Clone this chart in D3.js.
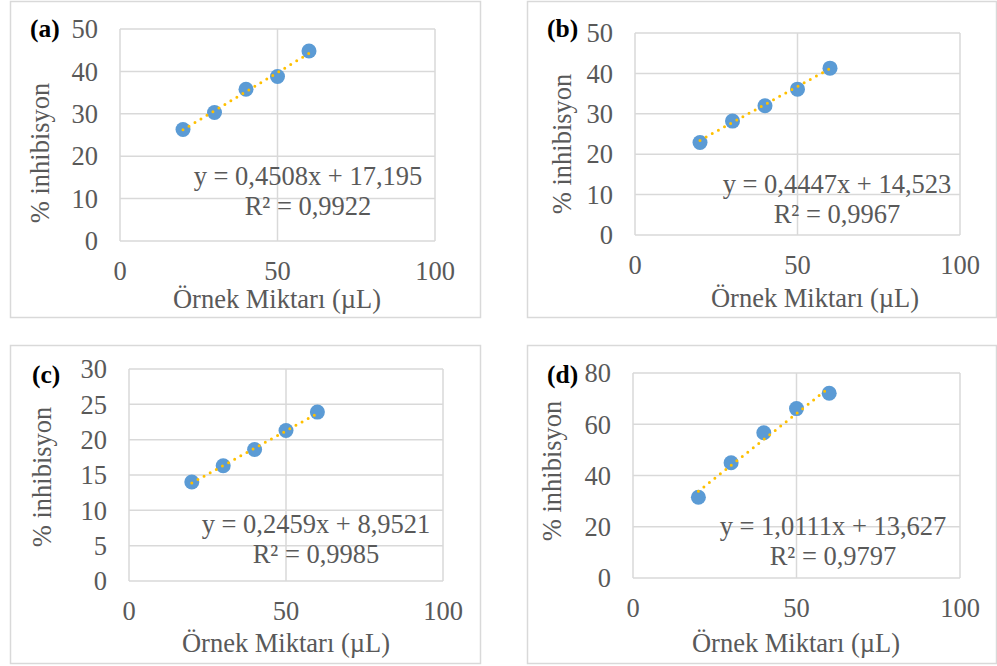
<!DOCTYPE html>
<html>
<head>
<meta charset="utf-8">
<script src="https://cdn.jsdelivr.net/npm/d3@7"></script>
<style>
  html, body { margin: 0; padding: 0; background: #fff; }
  svg { display: block; }
  text { font-family: "Liberation Serif", "Times New Roman", serif; }
</style>
</head>
<body>
<svg id="chart" width="997" height="666"></svg>
<script>
// ---- data ----
const xValues = [20, 30, 40, 50, 60];
const seriesA = [26.3, 30.3, 35.8, 38.8, 44.8];
const seriesB = [22.9, 28.2, 32.0, 36.1, 41.3];
const seriesC = [14.0, 16.3, 18.6, 21.3, 23.9];
const seriesD = [31.5, 45.0, 56.7, 66.1, 72.1];
const slopes = [0.4508, 0.4447, 0.2459, 1.0111];
const intercepts = [17.195, 14.523, 8.9521, 13.627];
const equationLabels = ["y = 0,4508x + 17,195", "y = 0,4447x + 14,523", "y = 0,2459x + 8,9521", "y = 1,0111x + 13,627"];
const r2Labels = ["R² = 0,9922", "R² = 0,9967", "R² = 0,9985", "R² = 0,9797"];
const panelLabels = ["(a)", "(b)", "(c)", "(d)"];
const xTicks = [0, 50, 100];
const yTicksA = [0, 10, 20, 30, 40, 50];
const yTicksB = [0, 10, 20, 30, 40, 50];
const yTicksC = [0, 5, 10, 15, 20, 25, 30];
const yTicksD = [0, 20, 40, 60, 80];
const xAxisTitle = "Örnek Miktarı (µL)";
const yAxisTitle = "% inhibisyon";

const seriesList = [seriesA, seriesB, seriesC, seriesD];
const yTickList = [yTicksA, yTicksB, yTicksC, yTicksD];

// ---- layout ----
const layouts = [
  { box: [10, 1, 470, 316], plot: [120, 29, 435, 241], lab: [30, 37], eq: [308, 185, 215], xt: [277, 308], yt: [40, 153] },
  { box: [527, 1, 469, 316], plot: [635, 33, 960, 235], lab: [547, 37], eq: [837, 193, 223], xt: [815, 307], yt: [562, 144] },
  { box: [10, 345, 470, 318], plot: [129, 369, 443, 581], lab: [32, 383], eq: [316, 533, 563], xt: [286, 652], yt: [42, 477] },
  { box: [527, 345, 469, 318], plot: [633, 373, 960, 578], lab: [547, 383], eq: [833, 535, 565], xt: [796, 652], yt: [552, 471] }
];

const fs = 26.5;
const gridColor = "#d9d9d9";
const textColor = "#595959";
const markerColor = "#5b9bd5";
const trendColor = "#ffc000";

const svg = d3.select("#chart");

layouts.forEach((L, i) => {
  const g = svg.append("g");
  const yTicks = yTickList[i];
  const x = d3.scaleLinear().domain([0, 100]).range([L.plot[0], L.plot[2]]);
  const y = d3.scaleLinear().domain([0, d3.max(yTicks)]).range([L.plot[3], L.plot[1]]);

  g.append("rect")
    .attr("x", L.box[0] + 0.5).attr("y", L.box[1] + 0.5)
    .attr("width", L.box[2]).attr("height", L.box[3])
    .attr("fill", "#fff").attr("stroke", gridColor).attr("stroke-width", 1.5);

  g.append("g").selectAll("line").data(yTicks).join("line")
    .attr("x1", L.plot[0]).attr("x2", L.plot[2])
    .attr("y1", d => y(d)).attr("y2", d => y(d))
    .attr("stroke", gridColor).attr("stroke-width", 1.5);
  g.append("g").selectAll("line").data(xTicks).join("line")
    .attr("x1", d => x(d)).attr("x2", d => x(d))
    .attr("y1", L.plot[1]).attr("y2", L.plot[3])
    .attr("stroke", gridColor).attr("stroke-width", 1.5);

  g.append("g").selectAll("text").data(yTicks).join("text")
    .attr("x", L.plot[0] - 22).attr("y", d => y(d))
    .attr("dy", "0.35em")
    .attr("text-anchor", "end")
    .attr("font-size", fs).attr("fill", textColor)
    .text(d => d);

  g.append("g").selectAll("text").data(xTicks).join("text")
    .attr("x", d => x(d)).attr("y", L.plot[3] + 39)
    .attr("text-anchor", "middle")
    .attr("font-size", fs).attr("fill", textColor)
    .text(d => d);

  g.append("text")
    .attr("x", L.xt[0]).attr("y", L.xt[1])
    .attr("text-anchor", "middle")
    .attr("font-size", fs).attr("fill", textColor)
    .text(xAxisTitle);
  g.append("text")
    .attr("transform", `translate(${L.yt[0]},${L.yt[1]}) rotate(-90)`)
    .attr("dy", "0.35em")
    .attr("text-anchor", "middle")
    .attr("font-size", fs).attr("fill", textColor)
    .text(yAxisTitle);

  const pts = xValues.map((xv, k) => [xv, seriesList[i][k]]);
  g.append("g").selectAll("circle").data(pts).join("circle")
    .attr("cx", d => x(d[0])).attr("cy", d => y(d[1]))
    .attr("r", 7.5)
    .attr("fill", markerColor);

  const x0 = d3.min(xValues), x1 = d3.max(xValues);
  g.append("line")
    .attr("x1", x(x0)).attr("y1", y(slopes[i] * x0 + intercepts[i]))
    .attr("x2", x(x1)).attr("y2", y(slopes[i] * x1 + intercepts[i]))
    .attr("stroke", trendColor).attr("stroke-width", 3)
    .attr("stroke-linecap", "round")
    .attr("stroke-dasharray", "0 7");

  g.append("text")
    .attr("x", L.eq[0]).attr("y", L.eq[1])
    .attr("text-anchor", "middle")
    .attr("font-size", fs).attr("fill", textColor)
    .text(equationLabels[i]);
  g.append("text")
    .attr("x", L.eq[0]).attr("y", L.eq[2])
    .attr("text-anchor", "middle")
    .attr("font-size", fs).attr("fill", textColor)
    .text(r2Labels[i]);

  g.append("text")
    .attr("x", L.lab[0]).attr("y", L.lab[1])
    .attr("font-size", 25.5).attr("font-weight", "bold").attr("fill", "#000")
    .text(panelLabels[i]);
});
</script>
</body>
</html>
